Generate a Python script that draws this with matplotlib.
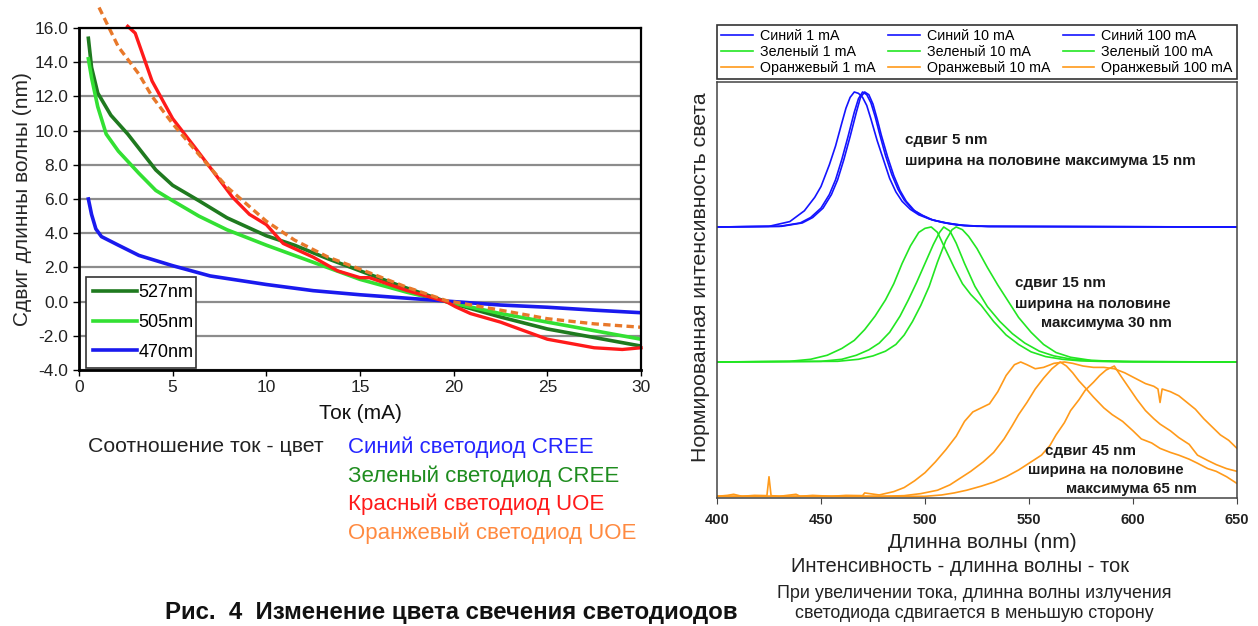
import numpy as np
import matplotlib
matplotlib.use("Agg")
import matplotlib.pyplot as plt

plt.rcParams['font.family'] = ['Liberation Sans', 'DejaVu Sans']

W, H = 1258, 626

# ---- left chart: wavelength shift vs current ----
cur_527 = [0.5, 0.67, 1.0, 1.7, 2.6, 4.1, 5.0, 6.4, 7.9, 10.0, 11.5, 13.3, 15.0, 17.1, 19.6, 22.5, 25.0, 27.5, 30.0]
shift_527 = [15.4, 13.7, 12.2, 10.9, 9.8, 7.7, 6.8, 5.9, 4.9, 3.85, 3.3, 2.5, 1.8, 0.94, 0.0, -0.9, -1.6, -2.1, -2.6]
cur_505 = [0.5, 0.67, 1.0, 1.45, 2.1, 3.2, 4.1, 5.0, 6.4, 7.9, 10.0, 12.5, 15.0, 17.5, 19.6, 22.5, 25.0, 27.5, 30.0]
shift_505 = [14.2, 13.1, 11.4, 9.8, 8.8, 7.5, 6.5, 5.9, 5.0, 4.2, 3.3, 2.3, 1.3, 0.55, 0.0, -0.7, -1.2, -1.7, -2.2]
cur_470 = [0.5, 0.67, 0.9, 1.2, 2.1, 3.2, 5.0, 7.0, 10.0, 12.5, 15.0, 17.5, 20.0, 22.5, 25.0, 27.5, 30.0]
shift_470 = [6.0, 5.1, 4.25, 3.8, 3.3, 2.7, 2.1, 1.5, 1.0, 0.64, 0.4, 0.2, 0.0, -0.2, -0.33, -0.5, -0.65]
cur_red = [2.6, 3.0, 3.9, 5.0, 6.2, 7.1, 8.2, 9.1, 10.0, 10.9, 12.5, 13.8, 15.0, 15.5, 17.5, 19.6, 20.1, 20.9, 22.5, 25.0, 27.5, 29.0, 30.0]
shift_red = [16.1, 15.7, 12.9, 10.7, 9.0, 7.7, 6.1, 5.1, 4.5, 3.4, 2.6, 1.8, 1.4, 1.4, 0.65, 0.0, -0.3, -0.7, -1.2, -2.2, -2.7, -2.8, -2.7]
cur_orange = [1.07, 2.1, 3.2, 3.9, 5.0, 6.4, 7.9, 10.0, 11.5, 13.3, 15.0, 17.5, 19.6, 22.5, 25.0, 27.5, 30.0]
shift_orange = [17.2, 14.9, 13.3, 12.0, 10.4, 8.6, 6.7, 4.7, 3.6, 2.6, 1.9, 0.84, 0.06, -0.5, -1.0, -1.3, -1.5]

left_yticks = [-4, -2, 0, 2, 4, 6, 8, 10, 12, 14, 16]
left_xticks = [0, 5, 10, 15, 20, 25, 30]

# ---- right chart: normalised spectra ----
wl_b1 = [400, 425, 435, 442, 447, 450, 454, 457, 460, 462, 464, 466, 468, 470, 472, 474, 477, 480, 483, 486, 489, 493, 497, 502, 508, 515, 525, 650]
in_b1 = [0, 0.005, 0.04, 0.12, 0.22, 0.3, 0.46, 0.6, 0.77, 0.88, 0.96, 1.0, 0.99, 0.96, 0.9, 0.8, 0.64, 0.5, 0.36, 0.26, 0.19, 0.13, 0.09, 0.06, 0.035, 0.015, 0.005, 0]
wl_b10 = [400, 430, 440, 445, 450, 454, 457, 460, 463, 466, 468, 470, 472, 474, 476, 478, 481, 484, 487, 490, 494, 498, 503, 510, 518, 530, 650]
in_b10 = [0, 0.005, 0.03, 0.07, 0.14, 0.24, 0.35, 0.5, 0.67, 0.85, 0.95, 1.0, 0.98, 0.92, 0.82, 0.7, 0.53, 0.39, 0.28, 0.2, 0.13, 0.09, 0.055, 0.03, 0.012, 0.004, 0]
wl_b100 = [400, 431, 441, 446, 451, 455, 458, 461, 464, 467, 469, 471, 473, 475, 477, 479, 482, 485, 488, 491, 495, 499, 504, 511, 519, 531, 650]
in_b100 = [0, 0.005, 0.03, 0.07, 0.14, 0.24, 0.35, 0.5, 0.67, 0.85, 0.96, 1.0, 0.98, 0.91, 0.8, 0.68, 0.52, 0.38, 0.27, 0.19, 0.12, 0.085, 0.05, 0.028, 0.011, 0.004, 0]

wl_g1 = [400, 435, 445, 453, 460, 466, 471, 476, 481, 485, 489, 493, 497, 500, 503, 506, 510, 514, 518, 522, 527, 533, 539, 545, 551, 558, 566, 575, 590, 650]
in_g1 = [0, 0.005, 0.02, 0.05, 0.1, 0.16, 0.24, 0.34, 0.46, 0.58, 0.73, 0.86, 0.96, 0.99, 1.0, 0.96, 0.83, 0.7, 0.58, 0.5, 0.42, 0.3, 0.2, 0.13, 0.075, 0.04, 0.02, 0.008, 0.002, 0]
wl_g10 = [400, 450, 460, 467, 473, 478, 483, 488, 492, 496, 500, 504, 507, 509, 512, 515, 519, 524, 530, 536, 542, 548, 555, 562, 570, 580, 600, 650]
in_g10 = [0, 0.005, 0.02, 0.05, 0.09, 0.14, 0.22, 0.34, 0.46, 0.59, 0.73, 0.87, 0.96, 1.0, 0.97, 0.88, 0.73, 0.56, 0.41, 0.3, 0.21, 0.14, 0.08, 0.045, 0.022, 0.01, 0.003, 0]
wl_g100 = [400, 458, 468, 475, 481, 486, 490, 494, 498, 502, 506, 510, 513, 515, 518, 521, 525, 530, 535, 540, 545, 551, 557, 563, 570, 580, 595, 650]
in_g100 = [0, 0.005, 0.02, 0.045, 0.08, 0.13, 0.2, 0.3, 0.42, 0.56, 0.74, 0.9, 0.98, 1.0, 0.98, 0.93, 0.84, 0.7, 0.57, 0.45, 0.33, 0.22, 0.13, 0.07, 0.035, 0.012, 0.003, 0]

wl_o1 = [400, 405, 408, 412, 418, 424, 425, 426, 430, 438, 440, 446, 455, 462, 470, 471, 478, 485, 490, 495, 500, 505, 510, 515, 519, 523, 527, 531, 535, 539, 543, 546, 549, 553, 557, 562, 567, 571, 576, 581, 586, 591, 596, 601, 606, 610, 612, 613, 614, 618, 622, 626, 630, 634, 638, 642, 646, 650]
in_o1 = [0.005, 0.012, 0.02, 0.005, 0.012, 0.01, 0.15, 0.01, 0.005, 0.02, 0.005, 0.012, 0.005, 0.012, 0.01, 0.03, 0.015, 0.04, 0.07, 0.12, 0.18, 0.26, 0.35, 0.45, 0.56, 0.63, 0.66, 0.69, 0.78, 0.9, 0.98, 1.0, 0.98, 0.95, 0.96, 0.99, 1.0, 0.99, 0.97, 0.96, 0.96, 0.95, 0.92, 0.88, 0.84, 0.82, 0.8, 0.7, 0.8, 0.78, 0.75, 0.7, 0.65, 0.58, 0.52, 0.46, 0.42, 0.36]
wl_o10 = [400, 480, 490, 498, 506, 512, 517, 522, 528, 533, 538, 542, 545, 549, 553, 557, 561, 565, 568, 571, 574, 577, 581, 586, 590, 595, 600, 604, 609, 613, 618, 622, 627, 631, 636, 640, 645, 650]
in_o10 = [0.005, 0.005, 0.01, 0.025, 0.05, 0.09, 0.14, 0.19, 0.26, 0.33, 0.43, 0.53, 0.61, 0.7, 0.8, 0.88, 0.95, 1.0, 0.97, 0.92, 0.86, 0.81, 0.74, 0.66, 0.61, 0.56, 0.49, 0.43, 0.4, 0.36, 0.33, 0.31, 0.28, 0.25, 0.21, 0.19, 0.15, 0.1]
wl_o100 = [400, 500, 508, 514, 520, 527, 533, 539, 545, 550, 556, 560, 563, 567, 570, 574, 577, 581, 584, 587, 591, 594, 598, 602, 606, 610, 613, 618, 622, 627, 631, 636, 640, 645, 650]
in_o100 = [0.005, 0.005, 0.015, 0.03, 0.05, 0.08, 0.11, 0.15, 0.2, 0.25, 0.31, 0.38, 0.46, 0.55, 0.64, 0.72, 0.79, 0.85, 0.9, 0.94, 0.97, 0.9, 0.81, 0.72, 0.64, 0.58, 0.54, 0.49, 0.44, 0.39, 0.31, 0.27, 0.24, 0.21, 0.19]

right_xticks = [400, 450, 500, 550, 600, 650]
currents = ['1 mA', '10 mA', '100 mA']


def fx(x):
    return x / W


def fy(y):
    return 1 - y / H


fig = plt.figure(figsize=(W / 100, H / 100), dpi=100)

# left axes
ax1 = fig.add_axes([fx(79), fy(370), fx(641) - fx(79), fy(28) - fy(370)])
ax1.set_xlim(0, 30)
ax1.set_ylim(-4, 16)
ax1.set_yticks(left_yticks)
ax1.set_yticklabels(['%.1f' % v for v in left_yticks])
ax1.set_xticks(left_xticks)
ax1.yaxis.grid(True, color='#8c8c8c', lw=1.6)
ax1.set_axisbelow(True)
for s in ax1.spines.values():
    s.set_color('black')
    s.set_linewidth(1.6)
ax1.spines['left'].set_linewidth(2)
ax1.spines['bottom'].set_linewidth(2)
ax1.tick_params(labelsize=12.5, labelcolor='#222222', length=4, width=1)

l527, = ax1.plot(cur_527, shift_527, color='#1f7a1f', lw=2.6, label='527nm')
l505, = ax1.plot(cur_505, shift_505, color='#33e033', lw=2.6, label='505nm')
l470, = ax1.plot(cur_470, shift_470, color='#1a1aee', lw=2.6, label='470nm')
ax1.plot(cur_red, shift_red, color='#ff1a1a', lw=2.4, clip_on=False)
ax1.plot(cur_orange, shift_orange, color='#e8782a', lw=2.4, ls=(0, (2.2, 1.3)), clip_on=False)

leg1 = ax1.legend(handles=[l527, l505, l470], loc='lower left',
                  bbox_to_anchor=(0.0125, 0.006, 0.196, 0.286), mode='expand',
                  borderaxespad=0, fontsize=13, handlelength=2.4, handletextpad=0.1,
                  labelspacing=0.7, fancybox=False, edgecolor='#333333', framealpha=1)
leg1.get_frame().set_linewidth(1.2)

ax1.set_xlabel('Ток (mA)', fontsize=15, color='#111111', labelpad=6)
ax1.set_ylabel('Сдвиг длинны волны (nm)', fontsize=15, color='#262626', labelpad=2)

# right axes
ax2 = fig.add_axes([fx(717), fy(498), fx(1237) - fx(717), fy(82) - fy(498)])
ax2.set_xlim(400, 650)
ax2.set_ylim(-0.0075, 3.074)
ax2.set_yticks([])
ax2.set_xticks(right_xticks)
for lab in ax2.get_xticklabels():
    lab.set_fontweight('bold')
ax2.tick_params(axis='x', labelsize=10.5, labelcolor='#222222', length=4, color='#444444', pad=7)
for s in ax2.spines.values():
    s.set_color('#444444')
    s.set_linewidth(1.1)

blue_c, green_c, orange_c = '#1414ff', '#22e622', '#ff9a1a'
hb = []
for wl, v, cur in [(wl_b1, in_b1, currents[0]), (wl_b10, in_b10, currents[1]), (wl_b100, in_b100, currents[2])]:
    h, = ax2.plot(wl, np.array(v) + 2, color=blue_c, lw=1.2, label='Синий ' + cur)
    hb.append(h)
hg = []
for wl, v, cur in [(wl_g1, in_g1, currents[0]), (wl_g10, in_g10, currents[1]), (wl_g100, in_g100, currents[2])]:
    h, = ax2.plot(wl, np.array(v) + 1, color=green_c, lw=1.2, label='Зеленый ' + cur)
    hg.append(h)
ho = []
for wl, v, cur in [(wl_o1, in_o1, currents[0]), (wl_o10, in_o10, currents[1]), (wl_o100, in_o100, currents[2])]:
    h, = ax2.plot(wl, v, color=orange_c, lw=1.2, label='Оранжевый ' + cur)
    ho.append(h)

# legend filled column by column
handles = []
for i in range(3):
    handles += [hb[i], hg[i], ho[i]]
leg2 = fig.legend(handles=handles, loc='lower left', ncol=3, mode='expand',
                  bbox_to_anchor=(fx(717), fy(79), fx(1237) - fx(717), fy(12) - fy(79)),
                  borderaxespad=0, fontsize=10.3, handlelength=2.2, handletextpad=0.5,
                  labelspacing=0.12, columnspacing=0.3, borderpad=0.3,
                  fancybox=False, edgecolor='#333333', framealpha=1)
leg2.get_frame().set_linewidth(1.2)

ax2.set_ylabel('Нормированная интенсивность света', fontsize=15.3, color='#262626')
ax2.yaxis.set_label_coords(-0.014, 0.53)

bold = dict(fontsize=10.9, fontweight='bold', color='#1a1a1a')
fig.text(fx(905), fy(140), 'сдвиг 5 nm', va='center', **bold)
fig.text(fx(905), fy(161), 'ширина на половине максимума 15 nm', va='center', **bold)
fig.text(fx(1015), fy(283), 'сдвиг 15 nm', va='center', **bold)
fig.text(fx(1015), fy(304), 'ширина на половине', va='center', **bold)
fig.text(fx(1172), fy(323), 'максимума 30 nm', va='center', ha='right', **bold)
fig.text(fx(1045), fy(451), 'сдвиг 45 nm', va='center', **bold)
fig.text(fx(1028), fy(470), 'ширина на половине', va='center', **bold)
fig.text(fx(1197), fy(489), 'максимума 65 nm', va='center', ha='right', **bold)

# captions
fig.text(fx(982), fy(543), 'Длинна волны (nm)', ha='center', va='center', fontsize=15, color='#222222')
fig.text(fx(960), fy(567), 'Интенсивность - длинна волны - ток', ha='center', va='center', fontsize=14.5, color='#222222')
fig.text(fx(974), fy(594), 'При увеличении тока, длинна волны излучения', ha='center', va='center', fontsize=12.9, color='#222222')
fig.text(fx(974), fy(613), 'светодиода сдвигается в меньшую сторону', ha='center', va='center', fontsize=12.9, color='#222222')

fig.text(fx(88), fy(447), 'Соотношение ток - цвет', va='center', fontsize=15.3, color='#222222')
fig.text(fx(348), fy(447), 'Синий светодиод CREE', va='center', fontsize=16, color='#2626ff')
fig.text(fx(348), fy(476), 'Зеленый светодиод CREE', va='center', fontsize=16, color='#1e8c1e')
fig.text(fx(348), fy(504), 'Красный светодиод UOE', va='center', fontsize=16, color='#ff1a1a')
fig.text(fx(348), fy(533), 'Оранжевый светодиод UOE', va='center', fontsize=16, color='#ff8a40')

fig.text(fx(165), fy(612), 'Рис.  4  Изменение цвета свечения светодиодов', va='center',
         fontsize=17.3, fontweight='bold', color='#111111')

fig.savefig('out.png', dpi=100)
